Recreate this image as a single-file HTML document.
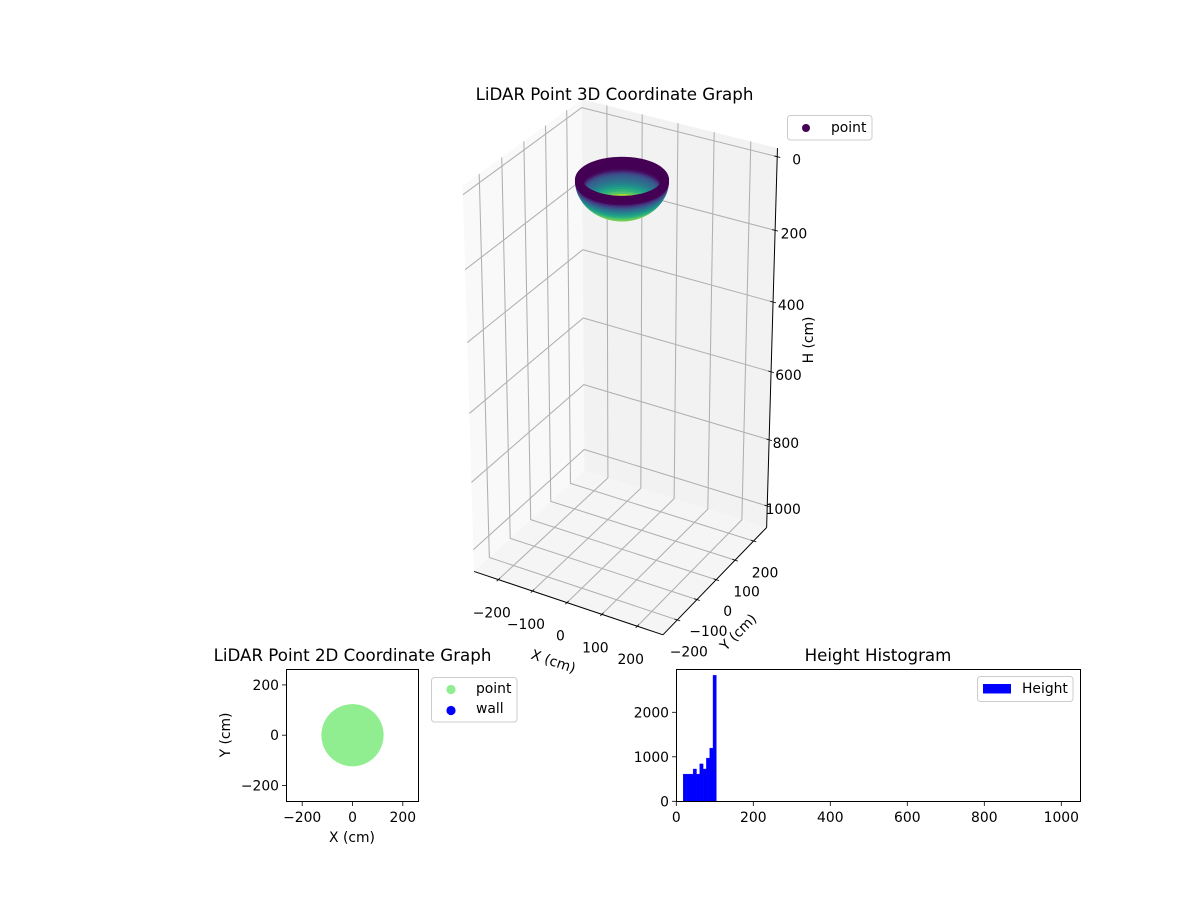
<!DOCTYPE html>
<html lang="en">
<head>
<meta charset="utf-8">
<title>LiDAR Point Graphs</title>
<style>
html,body{margin:0;padding:0;background:#fff;}
svg{display:block;font-family:"DejaVu Sans","Liberation Sans",sans-serif;fill:#000;}
</style>
</head>
<body>
<svg id="fig" xmlns="http://www.w3.org/2000/svg" width="1200" height="900" viewBox="0 0 1200 900">
  <g id="g3d"></g>
  <g id="g2d"></g>
  <g id="ghist"></g>

  <text x="614.5" y="100" font-size="16.67" text-anchor="middle">LiDAR Point 3D Coordinate Graph</text>
  <text transform="translate(553.5,661) rotate(18.7)" y="5" font-size="13.89" text-anchor="middle">X (cm)</text>
  <text transform="translate(738,632) rotate(-45)" y="5" font-size="13.89" text-anchor="middle">Y (cm)</text>
  <text transform="translate(808,340) rotate(-90)" y="5" font-size="13.89" text-anchor="middle">H (cm)</text>

  <g>
    <rect x="787.5" y="115.5" width="84.5" height="24.5" rx="3" fill="#fff" fill-opacity="0.8" stroke="#ccc"/>
    <circle cx="806" cy="128" r="4" fill="#440154"/>
    <text x="831" y="132" font-size="13.89">point</text>
  </g>

  <text x="352.5" y="661" font-size="16.67" text-anchor="middle">LiDAR Point 2D Coordinate Graph</text>
  <text x="352" y="842" font-size="13.89" text-anchor="middle">X (cm)</text>
  <text transform="translate(225,735) rotate(-90)" y="5" font-size="13.89" text-anchor="middle">Y (cm)</text>
  <g>
    <rect x="431.5" y="677.5" width="85.5" height="44.5" rx="3" fill="#fff" fill-opacity="0.8" stroke="#ccc"/>
    <circle cx="451" cy="689.5" r="4.6" fill="#90ee90"/>
    <text x="476" y="693" font-size="13.89">point</text>
    <circle cx="451" cy="710.5" r="4.6" fill="#0000ff"/>
    <text x="476" y="713" font-size="13.89">wall</text>
  </g>

  <text x="878" y="661" font-size="16.67" text-anchor="middle">Height Histogram</text>
  <g>
    <rect x="977.5" y="676.5" width="95.5" height="25" rx="3" fill="#fff" fill-opacity="0.8" stroke="#ccc"/>
    <rect x="983" y="684" width="28" height="9.5" fill="#0000ff"/>
    <text x="1022" y="693" font-size="13.89">Height</text>
  </g>
</svg>

<script>
// ---- 3D chart data ----
const xTicks3d = [-200, -100, 0, 100, 200];
const yTicks3d = [-200, -100, 0, 100, 200];
const zTicks3d = [0, 200, 400, 600, 800, 1000];
const bowlHeights = [97, 96, 95, 92.8, 90.8, 88.7, 86.6, 82.5, 78.3, 74.2, 70.1, 65.9, 61.7, 57.6, 53.5, 49.3, 45.2, 41, 36.9, 32.7, 28.6, 24.4, 20.3, 16.2, 12];
const bowlRadii   = [0, 15.7, 22.3, 31.5, 38.3, 44, 48.8, 57, 63.8, 69.5, 74.5, 78.9, 82.8, 86.1, 89, 91.6, 93.9, 95.8, 97.5, 99, 100, 100.9, 101.5, 101.9, 102];
const bowlInnerColorValues = [0.9, 0.9, 0.9, 0.9, 0.9, 0.89, 0.89, 0.88, 0.86, 0.72, 0.64, 0.57, 0.5, 0.44, 0.39, 0.35, 0.32, 0.28, 0.22, 0.14, 0.05, 0.01, 0, 0, 0];
const bowlOuterColorValues = [0.84, 0.84, 0.84, 0.83, 0.83, 0.82, 0.82, 0.81, 0.8, 0.78, 0.76, 0.73, 0.68, 0.63, 0.59, 0.54, 0.49, 0.44, 0.39, 0.33, 0.26, 0.19, 0.11, 0.01, 0];

// ---- 2D chart data ----
const ticks2d = [-200, 0, 200];
const scatterRadii = [100, 80, 60, 40, 20, 0];

// ---- Histogram data ----
const histBinStarts = [18, 26.6, 35.2, 43.8, 52.4, 61, 69.6, 78.2, 86.8, 95.4];
const histCounts = [610, 610, 610, 725, 610, 840, 725, 970, 1195, 2830];
const histXTicks = [0, 200, 400, 600, 800, 1000];
const histYTicks = [0, 1000, 2000];

const NS = 'http://www.w3.org/2000/svg';
function mk(parent, tag, attrs) {
  const el = document.createElementNS(NS, tag);
  for (const k in attrs) el.setAttribute(k, attrs[k]);
  parent.appendChild(el);
  return el;
}
function pts(list) { return list.map(p => p[0].toFixed(2) + ',' + p[1].toFixed(2)).join(' '); }

// ---- 3D projection ----
const xLim = [-272, 272], yLim = [-272, 272], zLim = [-23, 1066];
const K = 1.96, D = 13.4, X0 = 622, Y0 = 365, SX = 222, SY = 225;
function project(x, y, h) {
  const dx = (x - xLim[0]) / (xLim[1] - xLim[0]) - 0.5;
  const dy = (y - yLim[0]) / (yLim[1] - yLim[0]) - 0.5;
  const dz = K * (0.5 - (h - zLim[0]) / (zLim[1] - zLim[0]));
  const u = 0.866 * dx + 0.5 * dy;
  const v = -0.25 * dx + 0.433 * dy + 0.866 * dz;
  const n = 0.433 * dx - 0.75 * dy + 0.5 * dz;
  const s = D / (D - n);
  return [X0 + SX * u * s, Y0 - SY * v * s];
}
const viridisStops = ['#440154', '#482475', '#414487', '#355f8d', '#2a788e', '#21918c', '#22a884', '#44bf70', '#7ad151', '#bddf26', '#fde725'];
function viridis(t) {
  const c = Math.max(0, Math.min(1, t)) * (viridisStops.length - 1);
  const i = Math.min(viridisStops.length - 2, Math.floor(c));
  const f = c - i;
  const a = viridisStops[i], b = viridisStops[i + 1];
  let out = '#';
  for (let j = 1; j < 7; j += 2) {
    const va = parseInt(a.substr(j, 2), 16), vb = parseInt(b.substr(j, 2), 16);
    out += Math.round(va + (vb - va) * f).toString(16).padStart(2, '0');
  }
  return out;
}

const g3 = document.getElementById('g3d');
const [xa, xb] = xLim, [ya, yb] = yLim, [zt, zb] = zLim;

function pane(name, corners, fill) {
  const el = mk(g3, 'polygon', { points: pts(corners.map(c => project(c[0], c[1], c[2]))), fill: fill });
  
  
}
pane('left-wall-pane', [[xa, ya, zb], [xa, yb, zb], [xa, yb, zt], [xa, ya, zt]], '#f9f9f9');
pane('back-wall-pane', [[xa, yb, zb], [xb, yb, zb], [xb, yb, zt], [xa, yb, zt]], '#f2f2f2');
pane('floor-pane', [[xa, ya, zb], [xb, ya, zb], [xb, yb, zb], [xa, yb, zb]], '#f5f5f5');

function grid(name, corners) {
  const el = mk(g3, 'polyline', { points: pts(corners), fill: 'none', stroke: '#b0b0b0', 'stroke-width': 1.05 });
  
  
}
xTicks3d.forEach(x => grid('x-gridline', [project(x, ya, zb), project(x, yb, zb), project(x, yb, zt)]));
yTicks3d.forEach(y => grid('y-gridline', [project(xb, y, zb), project(xa, y, zb), project(xa, y, zt)]));
zTicks3d.forEach(z => grid('z-gridline', [project(xa, ya, z), project(xa, yb, z), project(xb, yb, z)]));

function line3(name, a, b, w) {
  const el = mk(g3, 'line', { x1: a[0], y1: a[1], x2: b[0], y2: b[1], stroke: '#000', 'stroke-width': w });
  
  
}
line3('x-axis-line', project(xa, ya, zb), project(xb, ya, zb), 1);
line3('y-axis-line', project(xb, ya, zb), project(xb, yb, zb), 1);
line3('z-axis-line', project(xb, yb, zb), project(xb, yb, zt), 1);

function label3(name, text, cx, cy) {
  const el = mk(g3, 'text', { x: cx, y: cy + 5, 'font-size': 13.89, 'text-anchor': 'middle' });
  el.textContent = text;
  
  
}
function fmt(v) { return String(v).replace('-', '\u2212'); }
xTicks3d.forEach(x => {
  line3('x-tick', project(x, ya - 8, zb), project(x, ya + 8, zb), 0.8);
  const p = project(x, ya, zb);
  label3('x-tick-label', fmt(x), p[0] - 6.5, p[1] + 33);
});
yTicks3d.forEach(y => {
  line3('y-tick', project(xb - 8, y, zb), project(xb + 8, y, zb), 0.8);
  const p = project(xb, y, zb);
  label3('y-tick-label', fmt(y), p[0] + 11.5, p[1] + 31.5);
});
zTicks3d.forEach(z => {
  line3('z-tick', project(xb - 8, yb, z), project(xb + 8, yb, z), 0.8);
  const p = project(xb, yb, z);
  label3('z-tick-label', fmt(z), p[0] + 19.5 - 3.5 * z / 1000, p[1] + 3);
});

// Bowl: back half (seen from inside) first, then the front half (seen from outside) over it
const AZ_STEPS = 120;
const bowlGroup = mk(g3, 'g', {});


function drawBowlHalf(isBack, colorValues) {
  bowlHeights.forEach((h, i) => {
    const r = bowlRadii[i], col = viridis(colorValues[i]);
    for (let a = 0; a < AZ_STEPS; a++) {
      const th = a / AZ_STEPS * 2 * Math.PI;
      const back = (-0.433 * Math.cos(th) + 0.75 * Math.sin(th)) > 0;
      if (back !== isBack) continue;
      const p = project(r * Math.cos(th), r * Math.sin(th), h);
      const el = mk(bowlGroup, 'circle', { cx: p[0].toFixed(2), cy: p[1].toFixed(2), r: 4, fill: col });
      
      
    }
  });
}
drawBowlHalf(true, bowlInnerColorValues);
drawBowlHalf(false, bowlOuterColorValues);

// ---- 2D scatter ----
const g2 = document.getElementById('g2d');
const sx2 = v => 352.5 + v * 0.2515;
const sy2 = v => 735.2 - v * 0.2515;
const AX2 = { l: 286, r: 418, t: 669, b: 801 };
const scatterGroup = mk(g2, 'g', {});


scatterRadii.forEach(r => {
  for (let a = 0; a < 60; a++) {
    const th = a / 60 * 2 * Math.PI;
    const el = mk(scatterGroup, 'circle', { cx: sx2(r * Math.cos(th)).toFixed(2), cy: sy2(r * Math.sin(th)).toFixed(2), r: 6, fill: '#90ee90' });
    
    
  }
});
function spines(parent, name, box) {
  const el = mk(parent, 'rect', { x: box.l + 0.5, y: box.t + 0.5, width: box.r - box.l, height: box.b - box.t, fill: 'none', stroke: '#000', 'stroke-width': 1 });
  
  
}
function xTick(parent, name, x, bottom, text) {
  const t = mk(parent, 'line', { x1: x, x2: x, y1: bottom + 1, y2: bottom + 5, stroke: '#000', 'stroke-width': 0.8 });
  
  
  const l = mk(parent, 'text', { x: x, y: bottom + 21, 'font-size': 13.89, 'text-anchor': 'middle' });
  l.textContent = text;
  
  
}
function yTick(parent, name, y, left, text) {
  const t = mk(parent, 'line', { x1: left - 4, x2: left, y1: y, y2: y, stroke: '#000', 'stroke-width': 0.8 });
  
  
  const l = mk(parent, 'text', { x: left - 7, y: y + 5, 'font-size': 13.89, 'text-anchor': 'end' });
  l.textContent = text;
  
  
}
spines(g2, '2d-plot-frame', AX2);
ticks2d.forEach(v => xTick(g2, '2d-x', sx2(v), AX2.b, fmt(v)));
ticks2d.forEach(v => yTick(g2, '2d-y', sy2(v), AX2.l, fmt(v)));

// ---- Histogram ----
const gh = document.getElementById('ghist');
const AXH = { l: 676, r: 1080, t: 669, b: 801 };
const sxh = v => 676.3 + v * 0.385;
const syh = v => 801.3 - v * 0.0445;
const histBinWidth = 8.6;
histCounts.forEach((c, i) => {
  const x0 = sxh(histBinStarts[i]), x1 = sxh(histBinStarts[i] + histBinWidth);
  const el = mk(gh, 'rect', { x: x0, y: syh(c), width: x1 - x0, height: syh(0) - syh(c), fill: '#0000ff', stroke: '#0000ff', 'stroke-width': 0.4 });
  
  
});
spines(gh, 'histogram-plot-frame', AXH);
histXTicks.forEach(v => xTick(gh, 'histogram-x', sxh(v), AXH.b, fmt(v)));
histYTicks.forEach(v => yTick(gh, 'histogram-y', syh(v), AXH.l, fmt(v)));
</script>
</body>
</html>
